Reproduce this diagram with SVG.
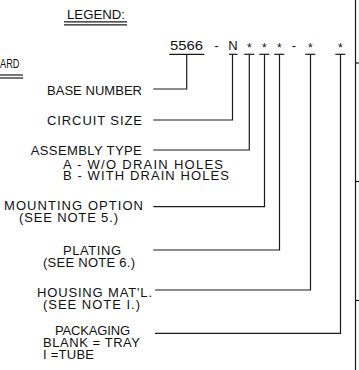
<svg xmlns="http://www.w3.org/2000/svg" width="359" height="370" viewBox="0 0 359 370">
<style>
text{font-family:"Liberation Sans",Arial,sans-serif;font-size:13px;fill:#111;}
.ln{stroke:#1a1a1a;stroke-width:1.2;fill:none;}
.ast{text-anchor:middle;font-size:12px;}
</style>
<rect width="359" height="370" fill="#fff"/>
<g id="legend-title">
<text x="67" y="18.5" textLength="58" lengthAdjust="spacingAndGlyphs">LEGEND:</text>
<line class="ln" x1="64" y1="21.8" x2="127" y2="21.8"/>
<line class="ln" x1="64" y1="24.8" x2="127" y2="24.8"/>
</g>
<g id="standard-fragment">
<text x="0" y="68" textLength="19.5" lengthAdjust="spacingAndGlyphs">ARD</text>
<line class="ln" x1="0" y1="75" x2="23" y2="75"/>
<line class="ln" x1="0" y1="78" x2="23" y2="78"/>
</g>
<g id="part-number">
<text x="170" y="50" textLength="33" lengthAdjust="spacingAndGlyphs">5566</text>
<text x="216.5" y="50" style="text-anchor:middle">-</text>
<text x="233" y="50" style="text-anchor:middle">N</text>
<text class="ast" x="249.3" y="52">*</text>
<text class="ast" x="264.3" y="52">*</text>
<text class="ast" x="279.3" y="52">*</text>
<text x="294" y="50" style="text-anchor:middle">-</text>
<text class="ast" x="310.3" y="52">*</text>
<text class="ast" x="340.3" y="52">*</text>
</g>
<g id="base-number"><text x="47" y="95" textLength="95" lengthAdjust="spacing">BASE NUMBER</text></g>
<g id="circuit-size"><text x="47" y="124.5" textLength="95" lengthAdjust="spacing">CIRCUIT SIZE</text></g>
<g id="assembly-type">
<text x="30.7" y="155" textLength="111" lengthAdjust="spacing">ASSEMBLY TYPE</text>
<text x="63" y="168.5" textLength="160" lengthAdjust="spacing">A - W/O DRAIN HOLES</text>
<text x="63" y="180" textLength="166" lengthAdjust="spacing">B - WITH DRAIN HOLES</text>
</g>
<g id="mounting-option">
<text x="4" y="210" textLength="139" lengthAdjust="spacing">MOUNTING OPTION</text>
<text x="19" y="221.5" textLength="99" lengthAdjust="spacing">(SEE NOTE 5.)</text>
</g>
<g id="plating">
<text x="63" y="255" textLength="58" lengthAdjust="spacing">PLATING</text>
<text x="43" y="267" textLength="92" lengthAdjust="spacing">(SEE NOTE 6.)</text>
</g>
<g id="housing">
<text x="37" y="297" textLength="115" lengthAdjust="spacing">HOUSING MAT'L.</text>
<text x="43" y="308.5" textLength="97" lengthAdjust="spacing">(SEE NOTE I.)</text>
</g>
<g id="packaging">
<text x="55" y="335" textLength="75" lengthAdjust="spacing">PACKAGING</text>
<text x="43" y="347" textLength="97" lengthAdjust="spacing">BLANK = TRAY</text>
<text x="43" y="358.5" textLength="51" lengthAdjust="spacing">I =TUBE</text>
</g>
<g id="connectors" class="ln">
<line x1="169.3" y1="54.3" x2="204.3" y2="54.3"/>
<line x1="229" y1="54.3" x2="237.5" y2="54.3"/>
<line x1="244.3" y1="54.3" x2="254.3" y2="54.3"/>
<line x1="259.3" y1="54.3" x2="269.3" y2="54.3"/>
<line x1="274.3" y1="54.3" x2="284.3" y2="54.3"/>
<line x1="305.3" y1="54.3" x2="315.3" y2="54.3"/>
<line x1="335.3" y1="54.3" x2="345.3" y2="54.3"/>
<polyline points="153.3,89 186.7,89 186.7,54.3"/>
<polyline points="153.3,120 232.5,120 232.5,54.3"/>
<polyline points="153.3,150 249.3,150 249.3,54.3"/>
<polyline points="153.3,206.7 264.5,206.7 264.5,54.3"/>
<polyline points="153.3,250 279.5,250 279.5,54.3"/>
<polyline points="155,290 310.5,290 310.5,54.3"/>
<polyline points="155,333.3 340.5,333.3 340.5,54.3"/>
</g>
<g id="border" class="ln">
<line x1="355.5" y1="0" x2="355.5" y2="370"/>
<line x1="355.5" y1="63" x2="359" y2="63"/>
<line x1="355.5" y1="181.5" x2="359" y2="181.5"/>
<line x1="355.5" y1="300.5" x2="359" y2="300.5"/>
</g>
</svg>
